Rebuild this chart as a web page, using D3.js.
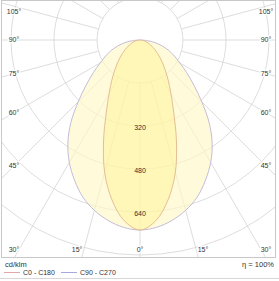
<!DOCTYPE html>
<html>
<head>
<meta charset="utf-8">
<script src="https://cdn.jsdelivr.net/npm/d3@7"></script>
<style>
  body { margin: 0; background: #fff; }
  svg { display: block; font-family: "Liberation Sans", Arial, sans-serif; }
</style>
</head>
<body>
<script>
const w = 279;
const h = 281;

// gamma angles from nadir (deg), curves are symmetric
const angles = [0, 5, 10, 15, 20, 25, 30, 35, 40, 45, 50, 55, 60, 65, 70, 75, 80, 85, 90];
const c0c180 = [707, 675, 603, 509, 396, 296, 230, 183, 146, 117, 93, 73, 56, 43, 32, 23, 15, 8, 0];
const c90c270 = [707, 700, 682, 656, 622, 576, 526, 468, 400, 325, 262, 212, 172, 141, 114, 86, 57, 29, 0];

const ringValues = [160, 320, 480, 640, 800, 960];
const ringLabels = [320, 480, 640];
const spokeAngles = [0, 15, 30, 45, 60, 75, 90, 105, 120, 135, 150, 165, 180];
const degLabels = [0, 15, 30, 45, 60, 75, 90, 105];

const cx = 140, cy = 40;
const frame = {x0: 1, y0: 0, x1: 276, y1: 257};

const rScale = d3.scaleLinear().domain([0, 160]).range([0, 43]);
const rad = (d) => d * Math.PI / 180;

const svg = d3.select("body").append("svg")
  .attr("width", w)
  .attr("height", h);

svg.append("clipPath").attr("id", "clip")
  .append("rect")
  .attr("x", frame.x0).attr("y", frame.y0)
  .attr("width", frame.x1 - frame.x0).attr("height", frame.y1 - frame.y0);

const plot = svg.append("g").attr("clip-path", "url(#clip)");
const g = plot.append("g").attr("transform", "translate(" + cx + "," + cy + ")");

// grid rings
g.selectAll("circle.ring")
  .data(ringValues)
  .enter()
  .append("circle")
  .attr("class", "ring")
  .attr("r", (d) => rScale(d))
  .attr("fill", "none")
  .attr("stroke", "#d4d4d4")
  .attr("stroke-width", 0.8);

// spokes, both sides, starting at the first ring
const spokes = [];
spokeAngles.forEach((a) => { spokes.push(a); if (a > 0 && a < 180) spokes.push(-a); });
g.selectAll("line.spoke")
  .data(spokes)
  .enter()
  .append("line")
  .attr("class", "spoke")
  .attr("x1", (d) => rScale(160) * Math.sin(rad(d)))
  .attr("y1", (d) => rScale(160) * Math.cos(rad(d)))
  .attr("x2", (d) => 400 * Math.sin(rad(d)))
  .attr("y2", (d) => 400 * Math.cos(rad(d)))
  .attr("stroke", "#d4d4d4")
  .attr("stroke-width", 0.8);

// curves
function curvePoints(vals) {
  const pts = [];
  for (let i = angles.length - 1; i >= 0; i--) pts.push([Math.PI + rad(angles[i]), rScale(vals[i])]);
  for (let i = 1; i < angles.length; i++) pts.push([Math.PI - rad(angles[i]), rScale(vals[i])]);
  return pts;
}
const radial = d3.lineRadial()
  .angle((d) => d[0])
  .radius((d) => d[1])
  .curve(d3.curveCatmullRomClosed.alpha(0.5));

g.append("path")
  .attr("d", radial(curvePoints(c90c270)))
  .attr("fill", "#fff8c4")
  .attr("fill-opacity", 0.65)
  .attr("stroke", "#bcb6d6")
  .attr("stroke-width", 0.9);

g.append("path")
  .attr("d", radial(curvePoints(c0c180)))
  .attr("fill", "#fff488")
  .attr("fill-opacity", 0.42)
  .attr("stroke", "#e0b890")
  .attr("stroke-width", 0.9);

// intensity labels
g.selectAll("text.rlab")
  .data(ringLabels)
  .enter()
  .append("text")
  .attr("class", "rlab")
  .attr("x", 0)
  .attr("y", (d) => rScale(d) + 2)
  .attr("dy", "0.35em")
  .attr("text-anchor", "middle")
  .attr("font-size", 7)
  .attr("fill", "#333")
  .text((d) => d);

// angle labels
const degItems = [];
degLabels.forEach((a) => { degItems.push(a); if (a > 0) degItems.push(-a); });
function labelPos(a) {
  const s = Math.sin(rad(Math.abs(a))), c = Math.cos(rad(Math.abs(a)));
  let t = s > 0 ? 126 / s : 1e9;
  if (c > 0) t = Math.min(t, 235 / c);
  let x = t * s, y = t * c;
  if (y > 210) y = 210;
  if (y < -31) y = -31;
  if (y < 0) y += 2.5;
  return [a < 0 ? -x : x, y];
}
g.selectAll("text.dlab")
  .data(degItems)
  .enter()
  .append("text")
  .attr("class", "dlab")
  .attr("x", (d) => labelPos(d)[0])
  .attr("y", (d) => labelPos(d)[1])
  .attr("dy", "0.35em")
  .attr("text-anchor", "middle")
  .attr("font-size", 7)
  .attr("fill", "#333")
  .attr("stroke", "#fff")
  .attr("stroke-width", 2.5)
  .attr("paint-order", "stroke")
  .text((d) => Math.abs(d) + "\u00b0");

// frame
svg.append("rect")
  .attr("x", frame.x0 + 0.5).attr("y", frame.y0 + 0.5)
  .attr("width", frame.x1 - frame.x0 - 1).attr("height", frame.y1 - frame.y0)
  .attr("fill", "none")
  .attr("stroke", "#c8c8c8")
  .attr("stroke-width", 1);

svg.append("line")
  .attr("x1", 0).attr("x2", w)
  .attr("y1", 278.5).attr("y2", 278.5)
  .attr("stroke", "#d8d8d8");

// legend
svg.append("text").attr("x", 5).attr("y", 267)
  .attr("font-size", 7.5).attr("fill", "#333").text("cd/klm");
svg.append("text").attr("x", 274).attr("y", 267).attr("text-anchor", "end")
  .attr("font-size", 7.5).attr("fill", "#333").text("\u03b7 = 100%");

const legend = [
  {name: "C0 - C180", color: "#e0a8a8", x: 4},
  {name: "C90 - C270", color: "#a8a8dc", x: 61}
];
const lg = svg.selectAll("g.leg").data(legend).enter().append("g").attr("class", "leg");
lg.append("line")
  .attr("x1", (d) => d.x).attr("x2", (d) => d.x + 16)
  .attr("y1", 272.5).attr("y2", 272.5)
  .attr("stroke", (d) => d.color).attr("stroke-width", 1);
lg.append("text")
  .attr("x", (d) => d.x + 19).attr("y", 275)
  .attr("font-size", 7).attr("fill", "#333")
  .text((d) => d.name);
</script>
</body>
</html>
